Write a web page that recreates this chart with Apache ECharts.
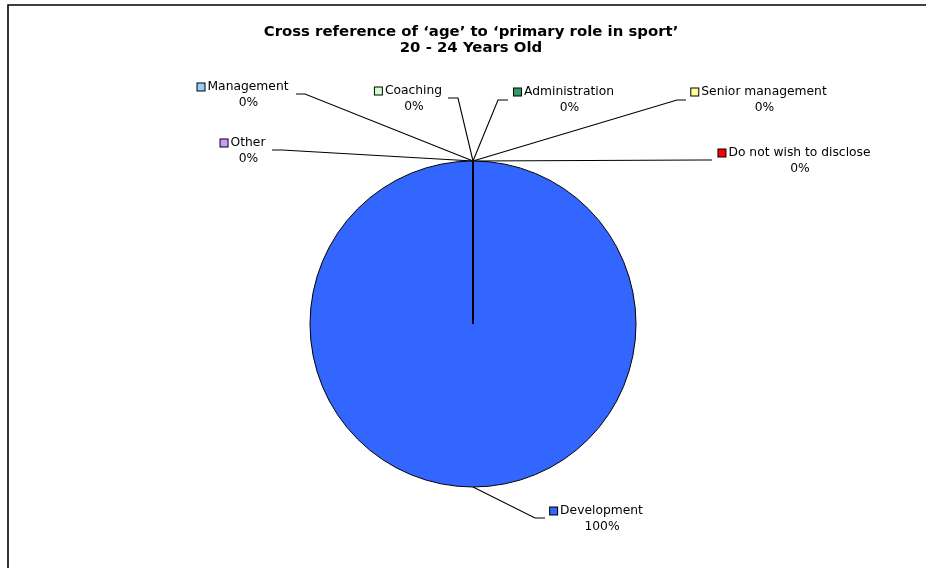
<!DOCTYPE html>
<html>
<head>
<meta charset="utf-8">
<script src="https://cdn.jsdelivr.net/npm/echarts@6/dist/echarts.min.js"></script>
<style>
html,body{margin:0;padding:0;background:#fff;}
#chart{width:926px;height:568px;}
</style>
</head>
<body>
<div id="chart"></div>
<script>
// ---- data ----
const titleLines = ["Cross reference of \u2018age\u2019 to \u2018primary role in sport\u2019", "20 - 24 Years Old"];
const categories = ["Development", "Other", "Management", "Coaching", "Administration", "Senior management", "Do not wish to disclose"];
const values = [100, 0, 0, 0, 0, 0, 0];
const colors = ["#3366FF", "#CC99FF", "#99CCFF", "#CCFFCC", "#339966", "#FFFF99", "#FF0000"];

// ---- label placement (offsets from each label line's start point) ----
// [name dx, name dy, elbow dx, elbow dy, end dx]
const labelPlacement = {
  "Development": [129, 24, 62, 31, 72],
  "Other": [-224.5, -18, -191, -11, -201],
  "Management": [-224.5, -74, -168, -67, -177],
  "Coaching": [-59, -70, -15, -63, -25],
  "Administration": [96.5, -69, 25, -61, 35],
  "Senior management": [291.5, -69, 204, -61, 213],
  "Do not wish to disclose": [327, -8, 229, -1, 239]
};

const FONT = "'DejaVu Sans', Verdana, sans-serif";
const BOXW = 11;

const chart = echarts.init(document.getElementById('chart'), null, {renderer: 'canvas'});

const pieData = categories.map((c, i) => ({
  name: c,
  value: values[i],
  itemStyle: {color: colors[i]},
  label: {rich: {box: {backgroundColor: colors[i]}}}
}));

chart.setOption({
  animation: false,
  backgroundColor: '#fff',
  title: {
    text: titleLines.join('\n'),
    left: 466,
    top: 19,
    textAlign: 'center',
    textStyle: {fontFamily: FONT, fontSize: 14.9, fontWeight: 'bold', color: '#000', lineHeight: 16}
  },
  graphic: [{
    type: 'rect',
    shape: {x: 8, y: 5, width: 1000, height: 1000},
    style: {fill: 'none', stroke: '#000', lineWidth: 1.6},
    silent: true
  }],
  series: [{
    type: 'pie',
    center: [473, 324],
    radius: 163,
    startAngle: 90,
    clockwise: true,
    avoidLabelOverlap: false,
    itemStyle: {borderColor: '#000', borderWidth: 1},
    emphasis: {disabled: true},
    label: {
      show: true,
      position: 'outside',
      color: '#000',
      fontFamily: FONT,
      fontSize: 12.3,
      lineHeight: 16,
      formatter: p => '{box|}{name|' + p.name + '}\n{pct|' + Math.round(p.percent) + '%}',
      rich: {
        box: {width: 7, height: 7, borderColor: '#000', borderWidth: 1},
        name: {fontFamily: FONT, fontSize: 12.3, color: '#000', padding: [0, 0, 0, 3], lineHeight: 16},
        pct: {fontFamily: FONT, fontSize: 12.3, color: '#000', padding: [0, 0, 0, BOXW], lineHeight: 16}
      }
    },
    labelLine: {show: true, length: 10, length2: 10, lineStyle: {color: '#000', width: 1.1}},
    labelLayout: function (params) {
      const pl = labelPlacement[categories[params.dataIndex]];
      const pts = params.labelLinePoints;
      if (!pl || !pts) return {};
      const s = pts[0];
      return {
        x: s[0] + pl[0] - BOXW / 2,
        y: s[1] + pl[1] - 8,
        align: 'center',
        verticalAlign: 'top',
        labelLinePoints: [
          [s[0], s[1]],
          [s[0] + pl[2], s[1] + pl[3]],
          [s[0] + pl[4], s[1] + pl[3]]
        ]
      };
    },
    data: pieData
  }]
});
</script>
</body>
</html>
